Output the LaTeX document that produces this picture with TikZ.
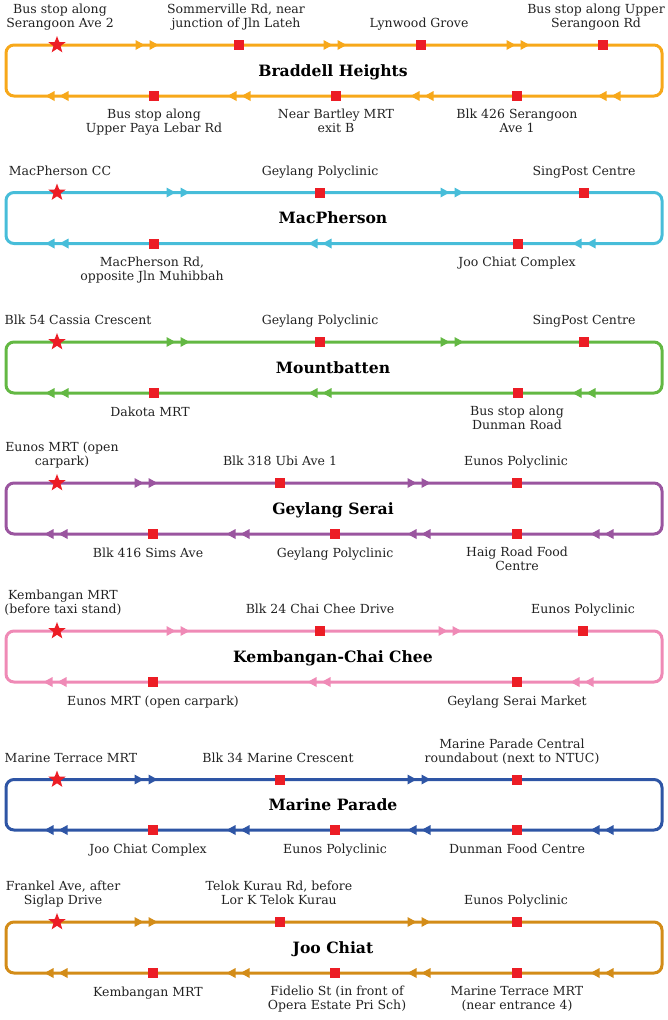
\documentclass[tikz,border=0pt]{standalone}
\usepackage{fontspec}
\setmainfont{DejaVu Serif}
\usetikzlibrary{shapes.geometric}
\definecolor{cBH}{HTML}{F7A81A}
\definecolor{cMP}{HTML}{47BDD9}
\definecolor{cMB}{HTML}{63B843}
\definecolor{cGS}{HTML}{9A559F}
\definecolor{cKC}{HTML}{EF8AB6}
\definecolor{cMR}{HTML}{2E55A5}
\definecolor{cJC}{HTML}{D38C18}
\definecolor{stopred}{HTML}{EC1D25}
\definecolor{txt}{HTML}{222222}
\newcommand\rtarrows[3]{%
  \fill[#1] ({#2-11.5},{#3-5}) -- ({#2-2.5},{#3}) -- ({#2-11.5},{#3+5}) -- cycle;
  \fill[#1] ({#2+2.5},{#3-5}) -- ({#2+11.5},{#3}) -- ({#2+2.5},{#3+5}) -- cycle;}
\newcommand\lfarrows[3]{%
  \fill[#1] ({#2+11.5},{#3-5}) -- ({#2+2.5},{#3}) -- ({#2+11.5},{#3+5}) -- cycle;
  \fill[#1] ({#2-2.5},{#3-5}) -- ({#2-11.5},{#3}) -- ({#2-2.5},{#3+5}) -- cycle;}
\begin{document}
\begin{tikzpicture}[x=1pt,y=-1pt,
  routeloop/.style={line width=3pt, rounded corners=8pt},
  stopsq/.style={rectangle, fill=stopred, minimum size=10pt, inner sep=0pt},
  startstar/.style={star, star points=5, star point ratio=2.4, fill=stopred, minimum size=18pt, inner sep=0pt},
  lbl/.style={font=\fontsize{12.5}{14}\selectfont, text=txt, align=center, inner sep=0pt,
    execute at begin node=\strut, execute at end node=\strut},
  toplbl/.style={lbl, anchor=south},
  botlbl/.style={lbl, anchor=north},
  ttl/.style={font=\fontsize{15.6}{18}\selectfont\bfseries, text=black, anchor=base, inner sep=0pt}]
\useasboundingbox (0,0) rectangle (668,1020);

% ---------- Braddell Heights ----------
\draw[routeloop,cBH] (6,45) rectangle (662,96);
\node[ttl] (bh) at (333,76) {Braddell Heights};
\rtarrows{cBH}{147}{45}\rtarrows{cBH}{335}{45}\rtarrows{cBH}{518}{45}
\lfarrows{cBH}{57}{96}\lfarrows{cBH}{239}{96}\lfarrows{cBH}{422}{96}\lfarrows{cBH}{609}{96}
\node[startstar] (bh0) at (57,45) {};
\node[stopsq] (bh1) at (239,45) {};
\node[stopsq] (bh2) at (421,45) {};
\node[stopsq] (bh3) at (603,45) {};
\node[stopsq] (bh4) at (517,96) {};
\node[stopsq] (bh5) at (336,96) {};
\node[stopsq] (bh6) at (154,96) {};
\node[toplbl] (bh0l) at (60,32) {Bus stop along\\Serangoon Ave 2};
\node[toplbl] (bh1l) at (236,32) {Sommerville Rd, near\\junction of Jln Lateh};
\node[toplbl] (bh2l) at (419,32) {Lynwood Grove};
\node[toplbl] (bh3l) at (596,32) {Bus stop along Upper\\Serangoon Rd};
\node[botlbl] (bh4l) at (517,109) {Blk 426 Serangoon\\Ave 1};
\node[botlbl] (bh5l) at (336,109) {Near Bartley MRT\\exit B};
\node[botlbl] (bh6l) at (154,109) {Bus stop along\\Upper Paya Lebar Rd};

% ---------- MacPherson ----------
\draw[routeloop,cMP] (6,192.5) rectangle (662,243.5);
\node[ttl] (mp) at (333,223.5) {MacPherson};
\rtarrows{cMP}{178}{192.5}\rtarrows{cMP}{452}{192.5}
\lfarrows{cMP}{57}{243.5}\lfarrows{cMP}{320}{243.5}\lfarrows{cMP}{584}{243.5}
\node[startstar] (mp0) at (57,192.5) {};
\node[stopsq] (mp1) at (320,192.5) {};
\node[stopsq] (mp2) at (584,192.5) {};
\node[stopsq] (mp3) at (518,243.5) {};
\node[stopsq] (mp4) at (154,243.5) {};
\node[toplbl] (mp0l) at (60,179.5) {MacPherson CC};
\node[toplbl] (mp1l) at (320,179.5) {Geylang Polyclinic};
\node[toplbl] (mp2l) at (584,179.5) {SingPost Centre};
\node[botlbl] (mp3l) at (517,256.5) {Joo Chiat Complex};
\node[botlbl] (mp4l) at (152,256.5) {MacPherson Rd,\\opposite Jln Muhibbah};

% ---------- Mountbatten ----------
\draw[routeloop,cMB] (6,342) rectangle (662,393);
\node[ttl] (mb) at (333,373) {Mountbatten};
\rtarrows{cMB}{178}{342}\rtarrows{cMB}{452}{342}
\lfarrows{cMB}{57}{393}\lfarrows{cMB}{320}{393}\lfarrows{cMB}{584}{393}
\node[startstar] (mb0) at (57,342) {};
\node[stopsq] (mb1) at (320,342) {};
\node[stopsq] (mb2) at (584,342) {};
\node[stopsq] (mb3) at (518,393) {};
\node[stopsq] (mb4) at (154,393) {};
\node[toplbl] (mb0l) at (78,329) {Blk 54 Cassia Crescent};
\node[toplbl] (mb1l) at (320,329) {Geylang Polyclinic};
\node[toplbl] (mb2l) at (584,329) {SingPost Centre};
\node[botlbl] (mb3l) at (517,406) {Bus stop along\\Dunman Road};
\node[botlbl] (mb4l) at (150,406) {Dakota MRT};

% ---------- Geylang Serai ----------
\draw[routeloop,cGS] (6,483) rectangle (662,534);
\node[ttl] (gs) at (333,514) {Geylang Serai};
\rtarrows{cGS}{146}{483}\rtarrows{cGS}{419}{483}
\lfarrows{cGS}{56}{534}\lfarrows{cGS}{238}{534}\lfarrows{cGS}{419}{534}\lfarrows{cGS}{602}{534}
\node[startstar] (gs0) at (57,483) {};
\node[stopsq] (gs1) at (280,483) {};
\node[stopsq] (gs2) at (517,483) {};
\node[stopsq] (gs3) at (517,534) {};
\node[stopsq] (gs4) at (335,534) {};
\node[stopsq] (gs5) at (153,534) {};
\node[toplbl] (gs0l) at (62,470) {Eunos MRT (open\\carpark)};
\node[toplbl] (gs1l) at (280,470) {Blk 318 Ubi Ave 1};
\node[toplbl] (gs2l) at (516,470) {Eunos Polyclinic};
\node[botlbl] (gs3l) at (517,547) {Haig Road Food\\Centre};
\node[botlbl] (gs4l) at (335,547) {Geylang Polyclinic};
\node[botlbl] (gs5l) at (148,547) {Blk 416 Sims Ave};

% ---------- Kembangan-Chai Chee ----------
\draw[routeloop,cKC] (6,631) rectangle (662,682);
\node[ttl] (kc) at (333,662) {Kembangan-Chai Chee};
\rtarrows{cKC}{178}{631}\rtarrows{cKC}{450}{631}
\lfarrows{cKC}{55}{682}\lfarrows{cKC}{319}{682}\lfarrows{cKC}{582}{682}
\node[startstar] (kc0) at (57,631) {};
\node[stopsq] (kc1) at (320,631) {};
\node[stopsq] (kc2) at (583,631) {};
\node[stopsq] (kc3) at (517,682) {};
\node[stopsq] (kc4) at (153,682) {};
\node[toplbl] (kc0l) at (63,618) {Kembangan MRT\\(before taxi stand)};
\node[toplbl] (kc1l) at (320,618) {Blk 24 Chai Chee Drive};
\node[toplbl] (kc2l) at (583,618) {Eunos Polyclinic};
\node[botlbl] (kc3l) at (517,695) {Geylang Serai Market};
\node[botlbl] (kc4l) at (153,695) {Eunos MRT (open carpark)};

% ---------- Marine Parade ----------
\draw[routeloop,cMR] (6,779.5) rectangle (662,830);
\node[ttl] (mr) at (333,810.5) {Marine Parade};
\rtarrows{cMR}{146}{779.5}\rtarrows{cMR}{419}{779.5}
\lfarrows{cMR}{56}{830}\lfarrows{cMR}{238}{830}\lfarrows{cMR}{419}{830}\lfarrows{cMR}{602}{830}
\node[startstar] (mr0) at (57,779.5) {};
\node[stopsq] (mr1) at (280,779.5) {};
\node[stopsq] (mr2) at (517,779.5) {};
\node[stopsq] (mr3) at (517,830) {};
\node[stopsq] (mr4) at (335,830) {};
\node[stopsq] (mr5) at (153,830) {};
\node[toplbl] (mr0l) at (71,766.5) {Marine Terrace MRT};
\node[toplbl] (mr1l) at (278,766.5) {Blk 34 Marine Crescent};
\node[toplbl] (mr2l) at (512,766.5) {Marine Parade Central\\roundabout (next to NTUC)};
\node[botlbl] (mr3l) at (517,843) {Dunman Food Centre};
\node[botlbl] (mr4l) at (335,843) {Eunos Polyclinic};
\node[botlbl] (mr5l) at (148,843) {Joo Chiat Complex};

% ---------- Joo Chiat ----------
\draw[routeloop,cJC] (6,922) rectangle (662,973);
\node[ttl] (jc) at (333,953) {Joo Chiat};
\rtarrows{cJC}{146}{922}\rtarrows{cJC}{419}{922}
\lfarrows{cJC}{56}{973}\lfarrows{cJC}{238}{973}\lfarrows{cJC}{419}{973}\lfarrows{cJC}{602}{973}
\node[startstar] (jc0) at (57,922) {};
\node[stopsq] (jc1) at (280,922) {};
\node[stopsq] (jc2) at (517,922) {};
\node[stopsq] (jc3) at (517,973) {};
\node[stopsq] (jc4) at (335,973) {};
\node[stopsq] (jc5) at (153,973) {};
\node[toplbl] (jc0l) at (63,909) {Frankel Ave, after\\Siglap Drive};
\node[toplbl] (jc1l) at (279,909) {Telok Kurau Rd, before\\Lor K Telok Kurau};
\node[toplbl] (jc2l) at (516,909) {Eunos Polyclinic};
\node[botlbl] (jc3l) at (517,986) {Marine Terrace MRT\\(near entrance 4)};
\node[botlbl] (jc4l) at (337,986) {Fidelio St (in front of\\Opera Estate Pri Sch)};
\node[botlbl] (jc5l) at (148,986) {Kembangan MRT};
\end{tikzpicture}
\end{document}
